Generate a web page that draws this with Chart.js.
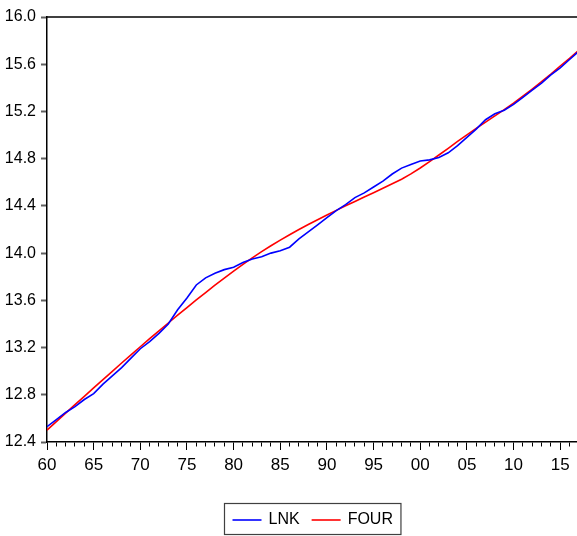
<!DOCTYPE html>
<html><head><meta charset="utf-8">
<script src="https://cdn.jsdelivr.net/npm/chart.js@4/dist/chart.umd.min.js"></script>
<style>html,body{margin:0;padding:0;background:#fff;overflow:hidden}</style>
</head><body>
<canvas id="c" width="577" height="536"></canvas>
<script>
const years = [1960,1961,1962,1963,1964,1965,1966,1967,1968,1969,
  1970,1971,1972,1973,1974,1975,1976,1977,1978,1979,
  1980,1981,1982,1983,1984,1985,1986,1987,1988,1989,
  1990,1991,1992,1993,1994,1995,1996,1997,1998,1999,
  2000,2001,2002,2003,2004,2005,2006,2007,2008,2009,
  2010,2011,2012,2013,2014,2015,2016,2017];
const lnk = [12.53,12.59,12.65,12.70,12.76,12.81,12.89,12.96,13.03,13.11,
  13.19,13.25,13.32,13.40,13.52,13.62,13.73,13.79,13.83,13.86,
  13.88,13.92,13.95,13.97,14.00,14.02,14.05,14.12,14.18,14.24,
  14.30,14.36,14.41,14.47,14.51,14.56,14.61,14.67,14.72,14.75,
  14.78,14.79,14.81,14.85,14.91,14.98,15.05,15.13,15.18,15.21,
  15.26,15.32,15.38,15.44,15.51,15.57,15.64,15.71];
const four = [12.500,12.572,12.644,12.716,12.787,12.858,12.929,12.999,13.069,13.138,
  13.207,13.275,13.342,13.408,13.474,13.539,13.603,13.666,13.728,13.788,
  13.847,13.904,13.959,14.012,14.062,14.110,14.156,14.200,14.242,14.283,
  14.323,14.362,14.401,14.438,14.475,14.512,14.549,14.587,14.626,14.671,
  14.721,14.775,14.831,14.888,14.946,15.002,15.056,15.110,15.163,15.216,
  15.270,15.330,15.390,15.452,15.517,15.585,15.650,15.720];
const xTickYears = [1960,1965,1970,1975,1980,1985,1990,1995,2000,2005,2010,2015];
const xTickLabels = ['60','65','70','75','80','85','90','95','00','05','10','15'];
const yTicks = [12.4,12.8,13.2,13.6,14.0,14.4,14.8,15.2,15.6,16.0];
const seriesNames = ['LNK','FOUR'];
const seriesColors = ['#0000ff','#ff0000'];

const framePlugin = {
  id: 'frame',
  afterDatasetsDraw(chart) {
    const {ctx, chartArea} = chart;
    ctx.save();
    ctx.strokeStyle = '#000';
    ctx.lineWidth = 1.5;
    ctx.beginPath();
    ctx.moveTo(chartArea.left, chartArea.top);
    ctx.lineTo(chartArea.right, chartArea.top);
    ctx.stroke();
    ctx.restore();
  },
  afterDraw(chart) {
    const {ctx, chartArea} = chart;
    const font = '16px "Liberation Sans", Arial, sans-serif';
    ctx.save();
    ctx.font = font;
    const pad = 8, lineLen = 29, gapText = 7, gapItem = 12;
    const ds = chart.data.datasets;
    let total = pad * 2;
    ds.forEach((d, i) => {
      total += lineLen + gapText + ctx.measureText(d.label).width;
      if (i < ds.length - 1) total += gapItem;
    });
    const cx = (chartArea.left + chartArea.right) / 2;
    const bx = Math.round(cx - total / 2) + 0.5;
    const by = 503.5, bh = 31;
    ctx.strokeStyle = '#404040';
    ctx.lineWidth = 1.2;
    ctx.strokeRect(bx, by, total, bh);
    const ly = by + bh / 2 + 1;
    let x = bx + pad;
    ds.forEach((d, i) => {
      ctx.strokeStyle = d.borderColor;
      ctx.lineWidth = 1.6;
      ctx.beginPath();
      ctx.moveTo(x, ly);
      ctx.lineTo(x + lineLen, ly);
      ctx.stroke();
      x += lineLen + gapText;
      ctx.fillStyle = '#000';
      ctx.textBaseline = 'middle';
      ctx.fillText(d.label, x, ly);
      x += ctx.measureText(d.label).width + gapItem;
    });
    ctx.restore();
  }
};

new Chart(document.getElementById('c'), {
  type: 'line',
  data: {
    datasets: [
      { label: seriesNames[0], data: years.map((y, i) => ({x: y, y: lnk[i]})),
        borderColor: seriesColors[0], backgroundColor: seriesColors[0] },
      { label: seriesNames[1], data: years.map((y, i) => ({x: y, y: four[i]})),
        borderColor: seriesColors[1], backgroundColor: seriesColors[1] }
    ]
  },
  options: {
    responsive: false,
    animation: false,
    devicePixelRatio: 1,
    layout: { padding: { top: 17, left: 0, right: 0, bottom: 0 } },
    elements: {
      point: { radius: 0 },
      line: { tension: 0, borderWidth: 1.6 }
    },
    plugins: { legend: { display: false }, tooltip: { enabled: false } },
    scales: {
      x: {
        type: 'linear',
        min: 1960,
        max: 2016.8,
        afterBuildTicks: s => { s.ticks = years.filter(v => v <= s.max).map(v => ({value: v})); },
        afterFit: s => { s.height = 94; },
        ticks: {
          autoSkip: false, maxRotation: 0, minRotation: 0, padding: 5,
          color: '#000',
          font: { family: '"Liberation Sans", Arial, sans-serif', size: 17 },
          callback: v => { const i = xTickYears.indexOf(v); return i >= 0 ? xTickLabels[i] : ''; }
        },
        grid: {
          drawOnChartArea: false, tickLength: 8, tickColor: '#000', tickWidth: 1,
          tickBorderDash: ctx => (ctx.tick && xTickYears.indexOf(ctx.tick.value) >= 0) ? [] : [4, 20]
        },
        border: { color: '#000', width: 1.5 }
      },
      y: {
        min: 12.4,
        max: 16.0,
        afterBuildTicks: s => { s.ticks = yTicks.map(v => ({value: v})); },
        afterFit: s => { s.width = 47; },
        ticks: {
          padding: 5, color: '#000',
          font: { family: '"Liberation Sans", Arial, sans-serif', size: 16 },
          callback: v => Number(v).toFixed(1)
        },
        grid: { drawOnChartArea: false, tickLength: 6, tickColor: '#606060', tickWidth: 2 },
        border: { color: '#000', width: 1.5 }
      }
    }
  },
  plugins: [framePlugin]
});
</script>
</body></html>
